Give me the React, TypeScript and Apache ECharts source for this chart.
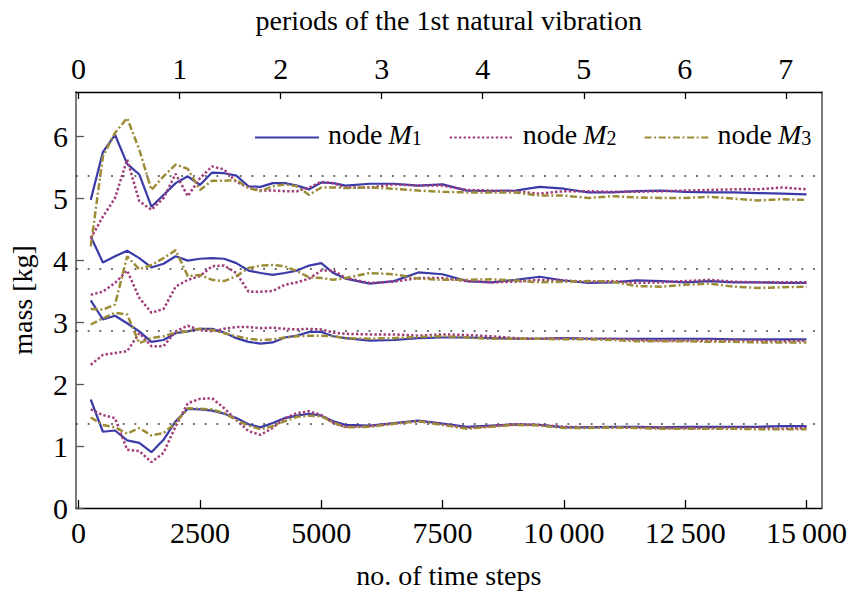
import React, { useEffect, useRef } from "react";
import * as echarts from "echarts";

// time-step samples
const steps = [250, 500, 750, 1000, 1250, 1500, 1750, 2000, 2250, 2500, 2750, 3000, 3250, 3500, 3750, 4000, 4250, 4500, 4750, 5000, 5250,
  5500, 6000, 6500, 7000, 7500, 8000, 8500, 9000, 9500, 10000, 10500, 11000, 11500, 12000, 12500, 13000, 13500, 14000, 14500, 15000];

// group 1 (reference ~5.36)
const g1M1 = [4.97, 5.74, 6.02, 5.55, 5.38, 4.86, 5.05, 5.24, 5.35, 5.21, 5.41, 5.40, 5.36, 5.19, 5.18, 5.24, 5.24, 5.20, 5.14, 5.25, 5.24,
  5.20, 5.23, 5.23, 5.20, 5.22, 5.12, 5.11, 5.12, 5.18, 5.15, 5.09, 5.09, 5.11, 5.12, 5.10, 5.09, 5.09, 5.08, 5.07, 5.06];
const g1M2 = [4.35, 4.70, 5.00, 5.62, 4.95, 4.81, 5.00, 5.39, 5.03, 5.32, 5.51, 5.46, 5.26, 5.17, 5.12, 5.12, 5.11, 5.11, 5.17, 5.26, 5.24,
  5.17, 5.17, 5.22, 5.20, 5.20, 5.13, 5.12, 5.11, 5.07, 5.11, 5.11, 5.10, 5.10, 5.11, 5.12, 5.13, 5.14, 5.14, 5.17, 5.14];
const g1M3 = [4.22, 5.67, 6.05, 6.29, 5.78, 5.13, 5.35, 5.54, 5.47, 5.13, 5.28, 5.28, 5.29, 5.16, 5.11, 5.19, 5.22, 5.19, 5.05, 5.17, 5.17,
  5.16, 5.17, 5.15, 5.12, 5.10, 5.09, 5.09, 5.09, 5.04, 5.04, 5.00, 5.03, 5.01, 5.00, 5.00, 5.02, 4.99, 4.96, 4.98, 4.97];
// group 2 (reference ~3.86)
const g2M1 = [4.38, 3.96, 4.06, 4.15, 4.03, 3.88, 3.94, 4.06, 3.99, 4.02, 4.03, 4.02, 3.95, 3.83, 3.79, 3.76, 3.79, 3.83, 3.91, 3.95, 3.79,
  3.70, 3.62, 3.66, 3.80, 3.77, 3.66, 3.64, 3.68, 3.73, 3.67, 3.63, 3.64, 3.67, 3.66, 3.64, 3.66, 3.64, 3.64, 3.63, 3.63];
const g2M2 = [3.44, 3.49, 3.63, 3.83, 3.39, 3.15, 3.21, 3.57, 3.68, 3.74, 3.90, 3.91, 3.79, 3.49, 3.49, 3.50, 3.60, 3.64, 3.70, 3.83, 3.83,
  3.71, 3.63, 3.65, 3.71, 3.71, 3.66, 3.64, 3.65, 3.68, 3.67, 3.65, 3.66, 3.63, 3.64, 3.66, 3.68, 3.65, 3.64, 3.64, 3.64];
const g2M3 = [3.21, 3.20, 3.28, 4.06, 3.85, 3.92, 4.03, 4.16, 3.74, 3.76, 3.68, 3.66, 3.74, 3.87, 3.91, 3.92, 3.90, 3.82, 3.72, 3.71, 3.68,
  3.71, 3.79, 3.77, 3.70, 3.68, 3.68, 3.69, 3.67, 3.64, 3.65, 3.66, 3.65, 3.58, 3.57, 3.60, 3.62, 3.57, 3.55, 3.56, 3.57];
// group 3 (reference ~2.86)
const g3M1 = [3.35, 3.04, 3.10, 2.98, 2.85, 2.68, 2.71, 2.82, 2.85, 2.89, 2.89, 2.83, 2.74, 2.68, 2.65, 2.67, 2.75, 2.78, 2.84, 2.84, 2.77,
  2.74, 2.70, 2.71, 2.74, 2.75, 2.75, 2.74, 2.73, 2.73, 2.74, 2.73, 2.73, 2.73, 2.73, 2.73, 2.73, 2.72, 2.72, 2.72, 2.72];
const g3M2 = [2.31, 2.47, 2.50, 2.53, 2.82, 2.61, 2.61, 2.85, 2.94, 2.87, 2.85, 2.89, 2.92, 2.92, 2.90, 2.91, 2.89, 2.88, 2.89, 2.88, 2.83,
  2.81, 2.80, 2.80, 2.78, 2.80, 2.79, 2.77, 2.74, 2.73, 2.74, 2.73, 2.73, 2.71, 2.70, 2.70, 2.70, 2.70, 2.70, 2.69, 2.70];
const g3M3 = [2.96, 3.06, 3.15, 3.12, 2.66, 2.74, 2.77, 2.83, 2.85, 2.89, 2.87, 2.82, 2.77, 2.73, 2.71, 2.72, 2.75, 2.77, 2.78, 2.78, 2.77,
  2.74, 2.73, 2.74, 2.76, 2.77, 2.75, 2.73, 2.73, 2.73, 2.72, 2.72, 2.71, 2.69, 2.69, 2.69, 2.68, 2.68, 2.67, 2.67, 2.67];
// group 4 (reference ~1.36)
const g4M1 = [1.75, 1.23, 1.25, 1.09, 1.05, 0.90, 1.10, 1.40, 1.60, 1.59, 1.57, 1.52, 1.45, 1.35, 1.30, 1.37, 1.45, 1.49, 1.52, 1.49, 1.40,
  1.34, 1.33, 1.37, 1.41, 1.36, 1.31, 1.33, 1.35, 1.34, 1.30, 1.30, 1.31, 1.31, 1.30, 1.31, 1.31, 1.31, 1.31, 1.32, 1.32];
const g4M2 = [1.59, 1.50, 1.45, 0.94, 0.92, 0.74, 0.89, 1.32, 1.69, 1.76, 1.77, 1.61, 1.42, 1.24, 1.18, 1.29, 1.45, 1.53, 1.56, 1.50, 1.37,
  1.31, 1.32, 1.36, 1.40, 1.35, 1.29, 1.32, 1.35, 1.34, 1.31, 1.30, 1.30, 1.30, 1.29, 1.29, 1.29, 1.29, 1.29, 1.28, 1.29];
const g4M3 = [1.46, 1.34, 1.30, 1.20, 1.29, 1.17, 1.21, 1.37, 1.61, 1.60, 1.59, 1.53, 1.42, 1.33, 1.27, 1.32, 1.40, 1.47, 1.49, 1.48, 1.38,
  1.30, 1.31, 1.36, 1.40, 1.34, 1.28, 1.31, 1.34, 1.33, 1.29, 1.29, 1.30, 1.29, 1.28, 1.28, 1.28, 1.28, 1.27, 1.27, 1.27];

const refMasses = [5.36, 3.86, 2.86, 1.36];
const xTicks = [0, 2500, 5000, 7500, 10000, 12500, 15000];
const periodTicks = [0, 1, 2, 3, 4, 5, 6, 7];
const yTicks = [0, 1, 2, 3, 4, 5, 6];
const stepsPerPeriod = 2082;
const nodeNames = ["node M1", "node M2", "node M3"];

const FONT = "'Liberation Serif', 'DejaVu Serif', serif";
const COLORS = ["#3a3aa8", "#a03c7a", "#9c8c38"];
const DASHES: any[] = ["solid", [2.4, 2.2], [7, 2.6, 2, 2.6]];
const LABEL_SIZE = 30;

const X_MIN = -54;
const X_MAX = 15310;

function fmtSteps(v: number): string {
  if (v >= 10000) {
    return Math.floor(v / 1000) + "\u2009" + String(v % 1000).padStart(3, "0");
  }
  return String(v);
}

const labelRich = { t: { fontFamily: FONT, fontSize: LABEL_SIZE, lineHeight: LABEL_SIZE, color: "#000" } };

export default function App() {
  const ref = useRef<HTMLDivElement>(null);
  useEffect(() => {
    const chart = echarts.init(ref.current!, undefined, { renderer: "svg" });
    const groups = [
      [g1M1, g1M2, g1M3],
      [g2M1, g2M2, g2M3],
      [g3M1, g3M2, g3M3],
      [g4M1, g4M2, g4M3],
    ];
    const series: any[] = [];
    for (let node = 0; node < 3; node++) {
      for (let g = 0; g < groups.length; g++) {
        const vals = groups[g][node];
        const s: any = {
          type: "line",
          name: nodeNames[node],
          xAxisIndex: 0,
          yAxisIndex: 0,
          symbol: "none",
          showSymbol: false,
          data: steps.map((x, i) => [x, vals[i]]),
          lineStyle: { color: COLORS[node], width: node === 0 ? 2.2 : 2.5, type: DASHES[node], cap: "butt" },
          itemStyle: { color: COLORS[node] },
          z: 3 + node,
        };
        if (node === 0 && g === 0) {
          s.markLine = {
            silent: true,
            symbol: ["none", "none"],
            label: { show: false },
            lineStyle: { color: "#333", width: 1.6, type: [1.8, 9.9] },
            data: refMasses.map((v) => ({ yAxis: v })),
            z: 1,
          };
        }
        series.push(s);
      }
    }

    const option: any = {
      animation: false,
      backgroundColor: "#fff",
      textStyle: { fontFamily: FONT, color: "#000" },
      grid: { left: 76, right: 25, top: 92, bottom: 87, containLabel: false },
      legend: {
        data: nodeNames,
        left: 249,
        top: 115,
        itemWidth: 64,
        itemHeight: 14,
        itemGap: 27,
        selectedMode: false,
        itemStyle: { opacity: 0, borderWidth: 0 },
        formatter: (name: string) => `{n|node}{m|M}{s|${name.slice(-1)}}`,
        textStyle: {
          fontFamily: FONT,
          color: "#000",
          padding: [0, 0, 7, 0],
          rich: {
            n: { fontFamily: FONT, fontSize: 28, lineHeight: 28, color: "#000", padding: [0, 0, 0, 4] },
            m: { fontFamily: FONT, fontSize: 28, lineHeight: 28, fontStyle: "italic", color: "#000", padding: [0, 0, 0, 6] },
            s: { fontFamily: FONT, fontSize: 20, lineHeight: 6, verticalAlign: "bottom", color: "#000" },
          },
        },
      },
      xAxis: [
        {
          type: "value",
          position: "bottom",
          min: X_MIN,
          max: X_MAX,
          name: "no. of time steps",
          nameLocation: "middle",
          nameGap: 53,
          nameTextStyle: { fontFamily: FONT, fontSize: 28, color: "#000" },
          axisLine: { show: true, onZero: false, lineStyle: { color: "#000", width: 1.3 } },
          axisTick: { show: true, inside: true, length: 8, customValues: xTicks, lineStyle: { color: "#000", width: 1.3 } },
          axisLabel: {
            show: true,
            margin: 9,
            customValues: xTicks,
            fontFamily: FONT,
            fontSize: LABEL_SIZE,
            color: "#000",
            formatter: (v: number) => `{t|${fmtSteps(v)}}`,
            rich: labelRich,
          },
          splitLine: { show: false },
        },
        {
          type: "value",
          position: "top",
          min: X_MIN / stepsPerPeriod,
          max: X_MAX / stepsPerPeriod,
          name: "periods of the 1st natural vibration",
          nameLocation: "middle",
          nameGap: 58,
          nameTextStyle: { fontFamily: FONT, fontSize: 28, color: "#000" },
          axisLine: { show: true, onZero: false, lineStyle: { color: "#000", width: 1.3 } },
          axisTick: { show: true, inside: true, length: 7, customValues: periodTicks, lineStyle: { color: "#000", width: 1.3 } },
          axisLabel: {
            show: true,
            margin: 9,
            customValues: periodTicks,
            fontFamily: FONT,
            fontSize: LABEL_SIZE,
            color: "#000",
            formatter: (v: number) => `{t|${Math.round(v)}}`,
            rich: labelRich,
          },
          splitLine: { show: false },
        },
      ],
      yAxis: [
        {
          type: "value",
          position: "left",
          min: 0,
          max: 6.71,
          name: "mass [kg]",
          nameLocation: "middle",
          nameRotate: 90,
          nameGap: 40,
          nameTextStyle: { fontFamily: FONT, fontSize: 28, color: "#000" },
          axisLine: { show: true, onZero: false, lineStyle: { color: "#7a7a7a", width: 2 } },
          axisTick: { show: true, inside: true, length: 8, customValues: yTicks, lineStyle: { color: "#555", width: 1.3 } },
          axisLabel: {
            show: true,
            margin: 8,
            customValues: yTicks,
            fontFamily: FONT,
            fontSize: LABEL_SIZE,
            color: "#000",
            formatter: (v: number) => `{t|${v}}`,
            rich: labelRich,
          },
          splitLine: { show: false },
        },
        {
          type: "value",
          position: "right",
          min: 0,
          max: 6.71,
          axisLine: { show: true, onZero: false, lineStyle: { color: "#7a7a7a", width: 2 } },
          axisTick: { show: false },
          axisLabel: { show: false },
          splitLine: { show: false },
        },
      ],
      series,
    };
    chart.setOption(option);
    return () => chart.dispose();
  }, []);
  return (
    <div
      ref={ref}
      style={{ position: "absolute", left: 0, top: 0, width: 850, height: 595, background: "#fff" }}
    />
  );
}
